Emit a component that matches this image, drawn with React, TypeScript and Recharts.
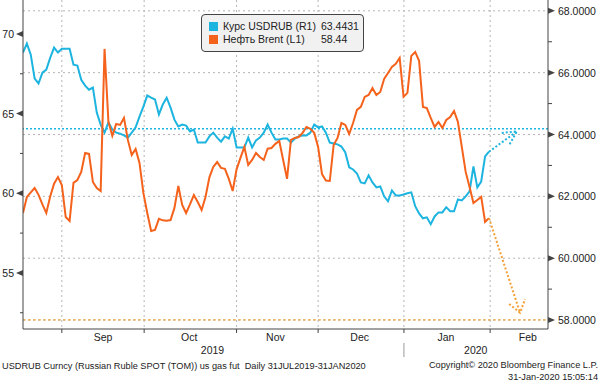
import React from 'react';
import { LineChart, Line, XAxis, YAxis, CartesianGrid, ReferenceLine } from 'recharts';

const FONT = '"Liberation Sans", Arial, sans-serif';
const CYAN = '#1db4e0';
const ORANGE = '#f4621b';
const ORANGE_LIGHT = '#f5a033';
const AXIS = '#444';

// USDRUB, right axis (R1), one value per trading day from mid-Aug 2019 to 31 Jan 2020
const usdrub = [
  66.65, 66.94, 66.58, 65.81, 65.65, 66.0, 66.1, 66.48, 66.81, 66.65,
  66.77, 66.77, 66.77, 66.26, 66.23, 65.77, 65.58, 65.45, 65.52, 64.71,
  64.32, 64.06, 64.39, 64.16, 64.06, 64.03, 63.97, 63.9, 64.06, 64.23,
  64.58, 64.9, 65.26, 65.19, 65.13, 64.65, 64.97, 65.19, 64.87, 64.48,
  64.26, 64.32, 64.29, 64.1, 64.16, 63.74, 63.74, 63.74, 63.94, 64.06,
  63.9, 63.77, 63.94, 63.87, 64.19, 63.58, 63.58, 63.58, 63.9, 63.58,
  63.81, 63.9, 64.06, 64.32, 64.06, 63.84, 63.84, 63.87, 63.87, 63.74,
  63.87, 63.94, 63.97, 63.97, 64.06, 64.32, 64.23, 64.26, 64.06, 63.74,
  63.71, 63.68, 63.61, 63.42, 62.94, 62.87, 62.74, 62.45, 62.42, 62.68,
  62.45, 62.29, 62.32, 62.0, 61.84, 62.19, 62.03, 62.03, 62.06, 62.1,
  62.13, 61.68, 61.45, 61.29, 61.32, 61.1, 61.35, 61.48, 61.48, 61.65,
  61.52, 61.52, 61.9, 61.87, 62.0, 62.16, 62.97, 62.29, 62.48, 63.29,
  63.4431,
];

// Brent, left axis (L1)
const brent = [
  58.76, 59.77, 60.05, 60.33, 59.9, 59.3, 58.76, 59.8, 60.6, 61.02,
  60.52, 58.51, 58.26, 60.65, 60.83, 61.34, 62.53, 62.47, 60.71, 60.33,
  60.14, 69.06, 64.48, 63.6, 64.35, 64.29, 64.73, 63.35, 62.4, 62.78,
  61.9, 60.02, 58.76, 57.63, 57.7, 58.39, 58.3, 58.28, 58.32, 59.08,
  60.46, 59.27, 58.76, 59.3, 59.89, 59.45, 58.95, 59.77, 61.0, 61.65,
  61.96, 61.59, 61.53, 60.9, 60.14, 61.5, 62.22, 62.91, 61.78, 62.09,
  62.53, 62.28, 62.09, 62.8, 62.84, 63.1, 63.28, 62.09, 60.9, 63.35,
  63.47, 63.53, 63.79, 64.16, 64.04, 63.79, 62.91, 61.2, 60.8, 60.77,
  63.03, 63.47, 64.41, 64.29, 63.72, 64.41, 65.23, 65.42, 66.05, 66.17,
  66.61, 66.17, 66.36, 67.18, 67.55, 67.93, 68.12, 68.49, 66.05, 66.3,
  68.62, 68.87, 68.31, 65.42, 65.35, 64.73, 64.16, 64.48, 64.1, 64.6,
  64.79, 65.17, 64.48, 62.91, 61.34, 60.4, 59.39, 59.58, 59.77, 58.2,
  58.44,
];

const days = usdrub.map((_, i) => i);

// forecast arrows
const usdArrowDays = [120, 127.2];
const usdArrowValues = [63.4431, 64.1];
const usdHeadDays = [123.3, 127.2, 125.3];
const usdHeadValues = [64.05, 64.1, 63.68];
const brentArrowDays = [120, 128];
const brentArrowValues = [58.44, 52.5];
const brentHeadDays = [125.2, 128, 129.3];
const brentHeadValues = [53.05, 52.5, 53.35];

const usdLevel = 64.19;
const brentLevel = 52.05;

const monthStarts = [10, 31.2, 55, 76, 98.1, 120.3];
const monthNames = ['Sep', 'Oct', 'Nov', 'Dec', 'Jan', 'Feb'];
const monthMids = [20.6, 42.8, 65, 86.7, 108.9, 130];
const years = ['2019', '2020'];
const yearMids = [48.8, 116.6];
const yearBreaks = [98.1];

const leftTicks = [52.5, 55, 57.5, 60, 62.5, 65, 67.5, 70];
const rightTicks = [58, 59, 60, 61, 62, 63, 64, 65, 66, 67, 68];
const rightGrid = [58, 60, 62, 64, 66, 68];

const rows = days.map((d, i) => ({ day: d, usdrub: usdrub[i], brent: brent[i] }));
const toPts = (xs: number[], ys: number[]) => xs.map((d, i) => ({ day: d, v: ys[i] }));

const XTick = ({ x, y, payload }: any) => {
  const v = payload.value;
  const mi = monthMids.indexOf(v);
  if (mi >= 0) {
    return (
      <text x={x} y={y + 12} textAnchor="middle" fontSize={10.5} fill="#222" fontFamily={FONT}>
        {monthNames[mi]}
      </text>
    );
  }
  const yi = yearMids.indexOf(v);
  if (yi >= 0) {
    return (
      <text x={x} y={y + 25} textAnchor="middle" fontSize={10.5} fill="#222" fontFamily={FONT}>
        {years[yi]}
      </text>
    );
  }
  return (
    <g>
      <line x1={x} x2={x} y1={y} y2={y + 4} stroke={AXIS} />
      {yearBreaks.includes(v) && <line x1={x} x2={x} y1={y + 14} y2={y + 28} stroke="#999" />}
    </g>
  );
};

const LeftTick = ({ x, y, payload }: any) => {
  const v = payload.value;
  if (v % 5 !== 0) return <line x1={x - 3} x2={x} y1={y} y2={y} stroke={AXIS} />;
  return (
    <g>
      <polygon points={`${x},${y - 3} ${x},${y + 3} ${x - 7},${y}`} fill={AXIS} />
      <text x={x - 9} y={y + 4} textAnchor="end" fontSize={10.5} fill="#222" fontFamily={FONT}>
        {v}
      </text>
    </g>
  );
};

const RightTick = ({ x, y, payload }: any) => {
  const v = payload.value;
  if (v % 2 !== 0) return <line x1={x} x2={x + 4} y1={y} y2={y} stroke={AXIS} />;
  return (
    <g>
      <polygon points={`${x},${y - 3} ${x},${y + 3} ${x + 7},${y}`} fill={AXIS} />
      <text x={x + 10} y={y + 4} textAnchor="start" fontSize={10.5} fill="#222" fontFamily={FONT}>
        {v.toFixed(4)}
      </text>
    </g>
  );
};

const Swatch = ({ color }: { color: string }) => (
  <span style={{ display: 'inline-block', width: 9, height: 9, background: color, marginRight: 5 }} />
);

const App: React.FC = () => {
  return (
    <div style={{ position: 'absolute', left: 0, top: 0, width: 600, height: 385, background: '#fff', fontFamily: FONT }}>
      <LineChart width={600} height={385} data={rows} margin={{ top: 0, right: 0, bottom: 26, left: 0 }}>
        <CartesianGrid
          yAxisId="right"
          horizontalValues={rightGrid}
          verticalValues={monthStarts}
          stroke="#b5b5b5"
          strokeDasharray="2 3"
        />
        <XAxis
          type="number"
          dataKey="day"
          domain={[0, 135.2]}
          allowDataOverflow
          ticks={[...monthStarts, ...monthMids, ...yearMids]}
          interval={0}
          tick={<XTick />}
          tickLine={false}
          tickSize={0}
          tickMargin={0}
          height={30}
          stroke={AXIS}
        />
        <YAxis
          yAxisId="left"
          orientation="left"
          domain={[51.48, 72.13]}
          allowDataOverflow
          ticks={leftTicks}
          interval={0}
          tick={<LeftTick />}
          tickLine={false}
          tickSize={0}
          tickMargin={0}
          width={23}
          stroke={AXIS}
        />
        <YAxis
          yAxisId="right"
          orientation="right"
          domain={[57.71, 68.35]}
          allowDataOverflow
          ticks={rightTicks}
          interval={0}
          tick={<RightTick />}
          tickLine={false}
          tickSize={0}
          tickMargin={0}
          width={52}
          stroke={AXIS}
        />
        <ReferenceLine yAxisId="right" y={usdLevel} stroke={CYAN} strokeDasharray="2 2" strokeWidth={1.5} />
        <ReferenceLine yAxisId="left" y={brentLevel} stroke={ORANGE_LIGHT} strokeDasharray="3 2" strokeWidth={1} />
        <Line yAxisId="right" dataKey="usdrub" stroke={CYAN} strokeWidth={2} dot={false} isAnimationActive={false} />
        <Line yAxisId="left" dataKey="brent" stroke={ORANGE} strokeWidth={2} dot={false} isAnimationActive={false} />
        <Line yAxisId="right" data={toPts(usdArrowDays, usdArrowValues)} dataKey="v" stroke={CYAN} strokeWidth={2} strokeDasharray="2 2" dot={false} isAnimationActive={false} />
        <Line yAxisId="right" data={toPts(usdHeadDays, usdHeadValues)} dataKey="v" stroke={CYAN} strokeWidth={2} strokeDasharray="2 2" dot={false} isAnimationActive={false} />
        <Line yAxisId="left" data={toPts(brentArrowDays, brentArrowValues)} dataKey="v" stroke={ORANGE_LIGHT} strokeWidth={2} strokeDasharray="2 2" dot={false} isAnimationActive={false} />
        <Line yAxisId="left" data={toPts(brentHeadDays, brentHeadValues)} dataKey="v" stroke={ORANGE_LIGHT} strokeWidth={2} strokeDasharray="2 2" dot={false} isAnimationActive={false} />
      </LineChart>

      <div
        style={{
          position: 'absolute', left: 201, top: 14, width: 163, height: 38, boxSizing: 'border-box',
          border: '1px solid #444', borderRadius: 4, background: '#f1f1f1', fontSize: 10.5, color: '#222',
          padding: '5px 0 0 7px', lineHeight: '13px',
        }}
      >
        <div style={{ display: 'flex', alignItems: 'center' }}>
          <Swatch color={CYAN} />
          <span style={{ width: 98 }}>Курс USDRUB (R1)</span>
          <span>63.4431</span>
        </div>
        <div style={{ display: 'flex', alignItems: 'center' }}>
          <Swatch color={ORANGE} />
          <span style={{ width: 98 }}>Нефть Brent (L1)</span>
          <span>58.44</span>
        </div>
      </div>

      <div style={{ position: 'absolute', left: 2, top: 360, fontSize: 9.2, color: '#222', whiteSpace: 'pre', lineHeight: '12px' }}>
        USDRUB Curncy (Russian Ruble SPOT (TOM)) us gas fut  Daily 31JUL2019-31JAN2020
      </div>
      <div style={{ position: 'absolute', right: 2, top: 360, fontSize: 9.2, color: '#222', textAlign: 'right', lineHeight: '11.5px' }}>
        <div>Copyright© 2020 Bloomberg Finance L.P.</div>
        <div>31-Jan-2020 15:05:14</div>
      </div>
    </div>
  );
};

export default App;
